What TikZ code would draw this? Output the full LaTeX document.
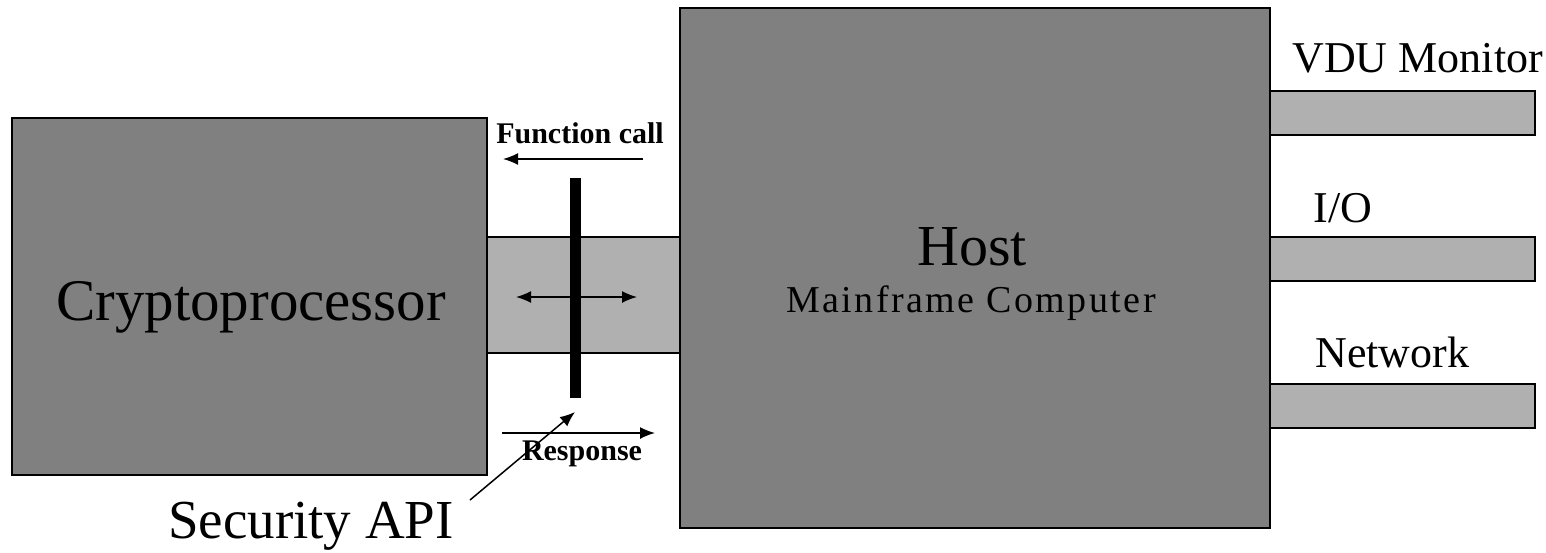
\documentclass[tikz,border=0pt]{standalone}
\usepackage{fontspec}
\usetikzlibrary{arrows.meta}
\setmainfont{Liberation Serif}
\newfontfamily\wideserif[LetterSpace=6.5]{Liberation Serif}
\definecolor{boxgray}{RGB}{128,128,128}
\definecolor{lanegray}{RGB}{176,176,176}
\tikzset{
  unit/.style={draw, rectangle, fill=boxgray, line width=0.8pt},
  lane/.style={draw, rectangle, fill=lanegray, line width=0.8pt},
  port/.style={draw, rectangle, fill=lanegray, line width=0.8pt, minimum width=132.5pt, minimum height=22pt},
}
\begin{document}
\begin{tikzpicture}[x=0.5pt,y=-0.5pt,>={Latex[length=7.5pt,width=6pt]}]
\useasboundingbox (0,0) rectangle (1546,552);
\node[lane, minimum width=96.5pt, minimum height=58pt] (band) at (583.5,295) {};
\node[unit, minimum width=237.5pt, minimum height=178.5pt] (crypto) at (249.5,296.5) {};
\node[unit, minimum width=295pt, minimum height=260pt] (host) at (975,268) {};
\node[draw, fill=black, minimum width=5pt, minimum height=109.5pt, inner sep=0pt] (api) at (575,287.5) {};
\node[port] (vdu) at (1402.5,113) {};
\node[port] (io) at (1402.5,259) {};
\node[port] (net) at (1402.5,406) {};

\node[anchor=base, font=\fontsize{29.5}{32}\selectfont] (cryptolbl) at (251,320) {Cryptoprocessor};
\node[anchor=base, font=\fontsize{29}{32}\selectfont] (hostlbl) at (972,265) {Host};
\node[anchor=base, font=\wideserif\fontsize{19}{22}\selectfont] (mainlbl) at (971,312) {Mainframe Computer};
\node[anchor=base west, inner sep=0pt, font=\fontsize{22}{24}\selectfont] (vdulbl) at (1292,72) {VDU Monitor};
\node[anchor=base west, inner sep=0pt, font=\fontsize{22}{24}\selectfont] (iolbl) at (1313,222) {I/O};
\node[anchor=base west, inner sep=0pt, font=\fontsize{22}{24}\selectfont] (netlbl) at (1315,367) {Network};
\node[anchor=base, font=\bfseries\fontsize{15}{17}\selectfont] (calllbl) at (580,143) {Function call};
\node[anchor=base, font=\bfseries\fontsize{15}{17}\selectfont] (resplbl) at (582,460) {Response};
\node[anchor=base, inner sep=0pt, font=\fontsize{27.5}{30}\selectfont] (apilbl) at (311,538) {Security API};

\coordinate (dl) at (516,297);
\coordinate (dr) at (637,297);
\coordinate (callr) at (643,159);
\coordinate (calll) at (503,159);
\coordinate (respl) at (502,433);
\coordinate (respr) at (655,433);
\coordinate (apitail) at (470,500);
\coordinate (apitip) at (575,412);
\draw[<->, line width=0.75pt] (dl) -- (dr);
\draw[->, line width=0.75pt] (callr) -- (calll);
\draw[->, line width=0.75pt] (respl) -- (respr);
\draw[->, line width=0.75pt] (apitail) -- (apitip);
\end{tikzpicture}
\end{document}
